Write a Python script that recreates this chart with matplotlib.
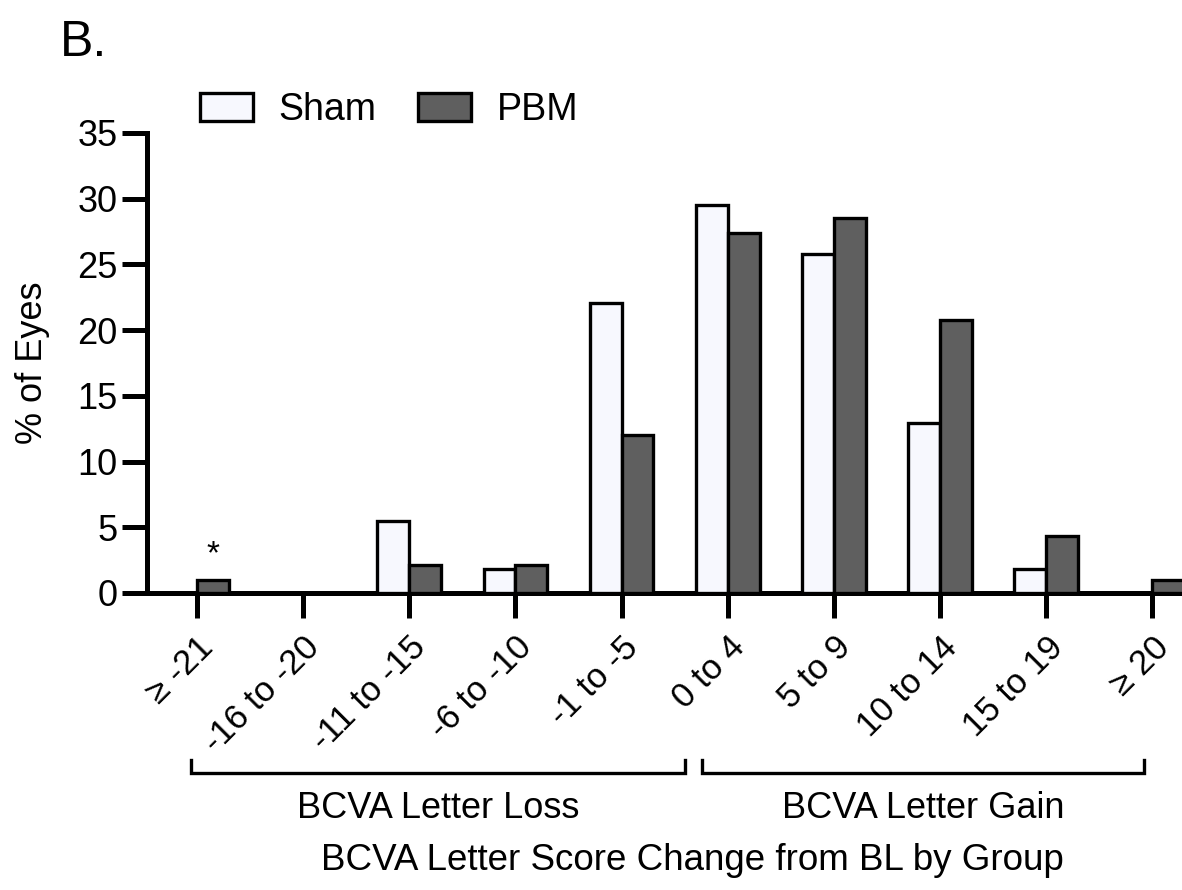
import matplotlib
matplotlib.use("Agg")
import matplotlib.pyplot as plt
import numpy as np
from matplotlib.transforms import blended_transform_factory

plt.rcParams['font.family'] = ['Liberation Sans', 'DejaVu Sans']

categories = ["≥ -21", "-16 to -20", "-11 to -15", "-6 to -10", "-1 to -5",
              "0 to 4", "5 to 9", "10 to 14", "15 to 19", "≥ 20"]
sham = [0, 0, 5.5, 1.8, 22.1, 29.5, 25.8, 12.9, 1.8, 0]
pbm = [1.0, 0, 2.1, 2.1, 12.0, 27.4, 28.5, 20.8, 4.3, 1.0]
yticks = [0, 5, 10, 15, 20, 25, 30, 35]

sham_color = "#F7F8FE"
pbm_color = "#5F5F5F"

fig = plt.figure(figsize=(11.82, 8.90), dpi=100)
ax = fig.add_axes([147/1182, 1-593/890, 1-147/1182, (593-133)/890])

x = np.arange(len(categories))
w = 0.3
ax.bar(x - w/2, sham, width=w, color=sham_color, edgecolor="black", linewidth=2.4, label="Sham", zorder=3)
ax.bar(x + w/2, pbm, width=w, color=pbm_color, edgecolor="black", linewidth=2.4, label="PBM", zorder=3)

ax.set_xlim(-0.47, 9.28)
ax.set_ylim(0, 35)
ax.set_yticks(yticks)
ax.set_yticklabels([str(t) for t in yticks], fontsize=26)
ax.set_xticks(x)
ax.set_xticklabels(categories, fontsize=25, rotation=45, ha='right', rotation_mode='anchor')

for s in ['top', 'right']:
    ax.spines[s].set_visible(False)
for s in ['left', 'bottom']:
    ax.spines[s].set_linewidth(3.6)
ax.tick_params(axis='both', width=3.6, length=18, pad=3)
ax.tick_params(axis='x', pad=9)

ax.set_ylabel("% of Eyes", fontsize=26, labelpad=20)

# significance asterisk
ax.text(x[0] + w/2, pbm[0] + 0.7, "*", ha='center', va='bottom', fontsize=24)

leg = ax.legend(loc='lower left', bbox_to_anchor=(200/1182, 1-128/890), bbox_transform=fig.transFigure,
                ncol=2, frameon=False, fontsize=27, handlelength=1.4, handleheight=0.78,
                handletextpad=0.7, columnspacing=1.1, borderaxespad=0, borderpad=0)

# brackets
tr = blended_transform_factory(ax.transData, fig.transFigure)
ytop, ybot = 1-760/890, 1-773/890
groups = [(-0.06, 4.6, "BCVA Letter Loss"), (4.76, 8.92, "BCVA Letter Gain")]
for x0, x1, lab in groups:
    ax.plot([x0, x0, x1, x1], [ytop, ybot, ybot, ytop], transform=tr, color='black',
            lw=2.4, clip_on=False, solid_joinstyle='miter')
    ax.text((x0 + x1)/2, 1-808/890, lab, transform=tr, ha='center', va='center', fontsize=26)

fig.text(692/1182, 1-861/890, "BCVA Letter Score Change from BL by Group", ha='center', va='center', fontsize=26.5)
fig.text(60/1182, 1-43/890, "B.", ha='left', va='center', fontsize=36)

fig.savefig("out.png", dpi=100)
